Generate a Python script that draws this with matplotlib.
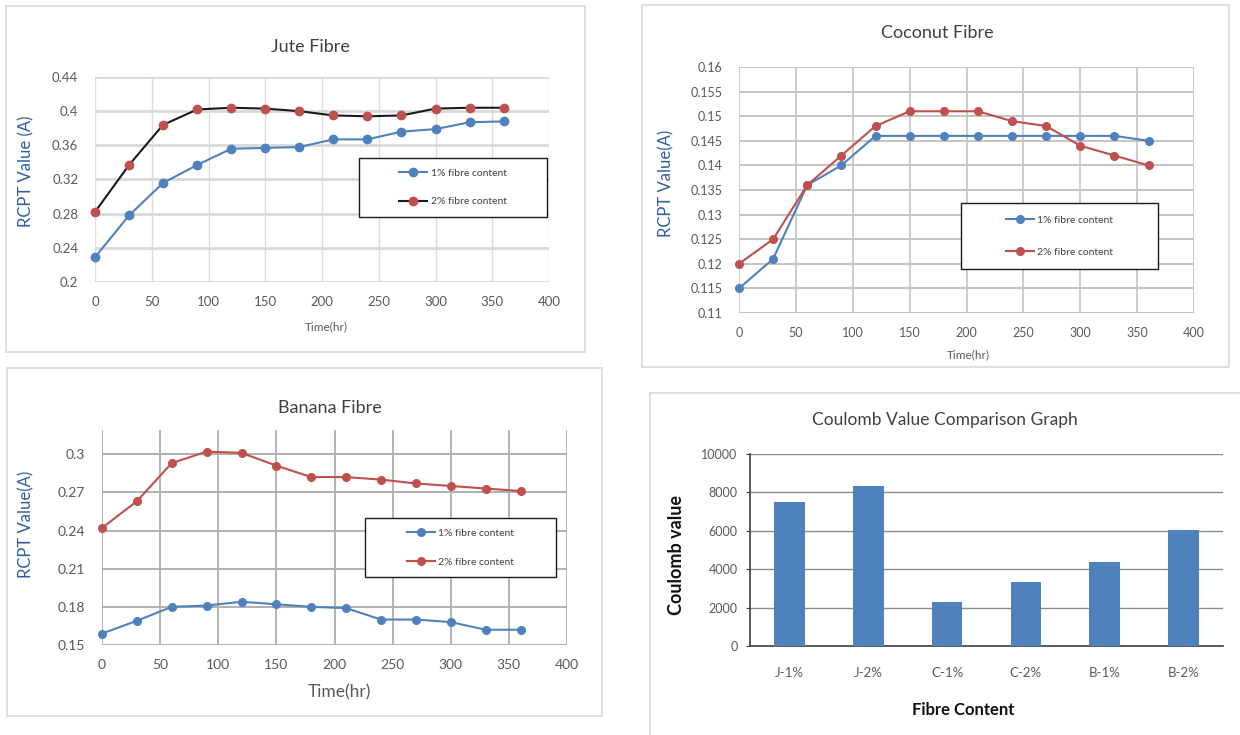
import matplotlib
matplotlib.use("Agg")
import matplotlib.pyplot as plt
from matplotlib.patches import Rectangle

# ---------------- data ----------------
time_hr = [0, 30, 60, 90, 120, 150, 180, 210, 240, 270, 300, 330, 360]

jute_1 = [0.229, 0.278, 0.316, 0.337, 0.356, 0.357, 0.358, 0.367, 0.367, 0.376, 0.379, 0.387, 0.388]
jute_2 = [0.282, 0.337, 0.384, 0.402, 0.404, 0.403, 0.400, 0.395, 0.394, 0.395, 0.403, 0.404, 0.404]

coco_1 = [0.115, 0.121, 0.136, 0.140, 0.146, 0.146, 0.146, 0.146, 0.146, 0.146, 0.146, 0.146, 0.145]
coco_2 = [0.120, 0.125, 0.136, 0.142, 0.148, 0.151, 0.151, 0.151, 0.149, 0.148, 0.144, 0.142, 0.140]

banana_1 = [0.159, 0.169, 0.180, 0.181, 0.184, 0.182, 0.180, 0.179, 0.170, 0.170, 0.168, 0.162, 0.162]
banana_2 = [0.242, 0.263, 0.293, 0.302, 0.301, 0.291, 0.282, 0.282, 0.280, 0.277, 0.275, 0.273, 0.271]

series_labels = ["1% fibre content", "2% fibre content"]

x_ticks = [0, 50, 100, 150, 200, 250, 300, 350, 400]
jute_yticks = [0.2, 0.24, 0.28, 0.32, 0.36, 0.4, 0.44]
jute_yticklabels = ["0.2", "0.24", "0.28", "0.32", "0.36", "0.4", "0.44"]
coco_yticks = [0.11, 0.115, 0.12, 0.125, 0.13, 0.135, 0.14, 0.145, 0.15, 0.155, 0.16]
coco_yticklabels = ["0.11", "0.115", "0.12", "0.125", "0.13", "0.135", "0.14",
                    "0.145", "0.15", "0.155", "0.16"]
banana_yticks = [0.15, 0.18, 0.21, 0.24, 0.27, 0.30]
banana_yticklabels = ["0.15", "0.18", "0.21", "0.24", "0.27", "0.3"]

categories = ["J-1%", "J-2%", "C-1%", "C-2%", "B-1%", "B-2%"]
coulomb = [7500, 8350, 2300, 3350, 4350, 6050]
coulomb_yticks = [0, 2000, 4000, 6000, 8000, 10000]

# ---------------- style ----------------
W, H = 1240, 735
plt.rcParams['font.family'] = ['Lato', 'DejaVu Sans']
BLUE = '#4F81BD'
RED = '#C0504D'
TICK_C = '#595959'
YLAB_C = '#2F5E9E'

fig = plt.figure(figsize=(W / 100, H / 100), dpi=100)


def px_axes(l, t, r, b):
    return fig.add_axes([l / W, 1 - b / H, (r - l) / W, (b - t) / H])


def frame(l, t, r, b, ec='#d9d9d9'):
    fig.patches.append(Rectangle((l / W, 1 - b / H), (r - l) / W, (b - t) / H,
                                 transform=fig.transFigure, fill=False,
                                 ec=ec, lw=1.2, zorder=0))


def ftext(x, y, s, **kw):
    fig.text(x / W, 1 - y / H, s, ha='center', va='center', **kw)


def legend_box(ax, h1, h2, l, t, r, b, spacing):
    box = Rectangle((l / W, 1 - b / H), (r - l) / W, (b - t) / H,
                    transform=fig.transFigure, fill=True, fc='white',
                    ec='#1a1a1a', lw=1.0, zorder=4.5, clip_on=False)
    ax.add_artist(box)
    leg = ax.legend([h1, h2], series_labels, loc='center',
                    bbox_to_anchor=(((l + r) / 2) / W, 1 - ((t + b) / 2) / H),
                    bbox_transform=fig.transFigure, frameon=False,
                    fontsize=7.5, labelspacing=spacing, handlelength=2.7,
                    handletextpad=0.3, borderpad=0)
    for t_ in leg.get_texts():
        t_.set_color('#404040')
    leg.set_zorder(6)


def line_panel(ax, y1, y2, c2line, ylim, yticks, yticklabels, hgrid_c, vgrid_c,
               hgrid_lw, vgrid_lw, tick_fs, ms):
    h1, = ax.plot(time_hr, y1, color=BLUE, lw=1.5, marker='o', ms=ms,
                  mfc=BLUE, mec=BLUE, zorder=3, clip_on=False)
    h2, = ax.plot(time_hr, y2, color=c2line, lw=1.5, marker='o', ms=ms,
                  mfc=RED, mec=RED, zorder=3, clip_on=False)
    ax.set_xlim(0, 400)
    ax.set_ylim(*ylim)
    ax.set_xticks(x_ticks)
    ax.set_xticklabels([str(v) for v in x_ticks])
    ax.set_yticks(yticks)
    ax.set_yticklabels(yticklabels)
    for s in ax.spines.values():
        s.set_visible(False)
    for v in x_ticks:
        ax.axvline(v, color=vgrid_c, lw=vgrid_lw, zorder=1)
    for v in yticks:
        ax.axhline(v, color=hgrid_c, lw=hgrid_lw, zorder=1)
    ax.tick_params(axis='both', length=0, labelsize=tick_fs, labelcolor=TICK_C)
    ax.tick_params(axis='y', pad=12)
    ax.tick_params(axis='x', pad=10)
    return h1, h2


# ---------------- Jute ----------------
frame(6, 6, 585, 352)
ax1 = px_axes(95, 77, 549, 282)
h1, h2 = line_panel(ax1, jute_1, jute_2, '#1a1a1a', (0.2, 0.44), jute_yticks,
                    jute_yticklabels, '#d9d9d9', '#dcdcdc', 2.0, 1.0, 9.5, 6)
ftext(310, 47, "Jute Fibre", fontsize=13, color='#404040')
ftext(26, 171, "RCPT Value (A)", fontsize=12, color=YLAB_C, rotation=90)
ftext(326, 327, "Time(hr)", fontsize=8.5, color=TICK_C)
legend_box(ax1, h1, h2, 359, 158, 547, 217, 1.8)

# ---------------- Coconut ----------------
frame(642, 5, 1229, 367)
ax2 = px_axes(739, 67, 1194, 313)
h1, h2 = line_panel(ax2, coco_1, coco_2, RED, (0.11, 0.16), coco_yticks,
                    coco_yticklabels, '#c4c4c4', '#c4c4c4', 1.4, 1.2, 9, 5.5)
ftext(937, 33, "Coconut Fibre", fontsize=13, color='#404040')
ftext(666, 183, "RCPT Value(A)", fontsize=12, color=YLAB_C, rotation=90)
ftext(968, 355, "Time(hr)", fontsize=8.5, color=TICK_C)
legend_box(ax2, h1, h2, 961, 203, 1158, 269, 2.2)

# ---------------- Banana ----------------
frame(7, 368, 602, 716)
ax3 = px_axes(102, 430, 567, 645)
h1, h2 = line_panel(ax3, banana_1, banana_2, RED, (0.15, 0.319), banana_yticks,
                    banana_yticklabels, '#b0b0b0', '#a8a8a8', 1.4, 1.2, 10, 5.5)
ftext(330, 408, "Banana Fibre", fontsize=13, color='#404040')
ftext(26, 524, "RCPT Value(A)", fontsize=12, color=YLAB_C, rotation=90)
ftext(339, 692, "Time(hr)", fontsize=12.5, color=TICK_C)
legend_box(ax3, h1, h2, 365, 518, 556, 577, 1.9)

# ---------------- Coulomb bar chart ----------------
frame(650, 393, 1245, 745)
ax4 = px_axes(750, 454, 1223, 646)
ax4.bar(range(len(categories)), coulomb, width=0.39, color=BLUE, zorder=3)
ax4.set_xlim(-0.5, len(categories) - 0.5)
ax4.set_ylim(0, 10000)
ax4.set_yticks(coulomb_yticks)
ax4.set_yticklabels([str(v) for v in coulomb_yticks])
ax4.set_xticks(range(len(categories)))
ax4.set_xticklabels(categories)
for v in coulomb_yticks:
    ax4.axhline(v, color='#8c8c8c', lw=1.0, zorder=1)
ax4.spines['top'].set_visible(False)
ax4.spines['right'].set_visible(False)
ax4.spines['left'].set_color('#404040')
ax4.spines['bottom'].set_color('#404040')
ax4.spines['left'].set_linewidth(1.2)
ax4.spines['bottom'].set_linewidth(1.2)
ax4.tick_params(axis='y', length=3, color='#404040', labelsize=9,
                labelcolor=TICK_C, pad=6)
ax4.tick_params(axis='x', length=0, labelsize=9.5, labelcolor=TICK_C, pad=15)
ftext(945, 420, "Coulomb Value Comparison Graph", fontsize=12.5, color='#404040')
ftext(676, 555, "Coulomb value", fontsize=13, fontweight='bold',
      color='#111111', rotation=90)
ftext(963, 710, "Fibre Content", fontsize=12, fontweight='bold', color='#111111')

fig.savefig("out.png", dpi=100, facecolor='white')
